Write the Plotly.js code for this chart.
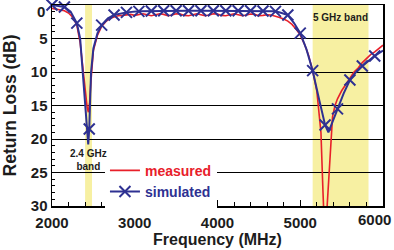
<!DOCTYPE html>
<html><head><meta charset="utf-8">
<script src="https://cdn.plot.ly/plotly-3.0.1.min.js"></script>
<style>html,body{margin:0;padding:0;background:#fff}#chart{width:394px;height:250px}</style>
</head><body><div id="chart"></div>
<script>
// Measured return loss (red)
const measFreq = [2000,2050,2100,2150,2200,2250,2300,2340,2370,2400,2425,2440,2455,2470,2485,2500,2550,2600,2650,2700,2750,2800,2850,2900,
  2950,3000,3050,3100,3150,3200,3250,3300,3350,3400,3450,3500,3550,3600,3650,3700,3750,3800,3850,3900,3950,4000,4050,4100,4150,4200,
  4250,4300,4350,4400,4450,4500,4550,4600,4650,4700,4750,4800,4850,4900,4950,5000,5050,5100,5150,5200,5250,5275,5300,5325,5350,5390,
  5420,5450,5500,5550,5600,5650,5700,5750,5800,5850,5900,5950,6000];
const measLoss = [0.5,0.6,0.7,0.85,1.2,1.8,3.0,5.6,9.0,12.6,15.3,16.0,14.5,11.5,8.6,6.8,4.5,3.2,2.5,2.0,1.8,1.6,1.55,1.45,
  1.4,1.55,1.45,1.3,1.45,1.6,1.45,1.3,1.4,1.6,1.5,1.3,1.35,1.55,1.6,1.4,1.3,1.45,1.6,1.5,1.3,1.35,1.55,1.6,1.4,1.3,
  1.45,1.6,1.5,1.35,1.4,1.6,1.55,1.45,1.5,1.65,1.85,2.1,2.4,2.9,3.6,4.5,5.8,7.5,9.8,12.8,19,28,36,30,24.5,16.7,
  15.0,14.0,12.8,11.9,10.9,10.0,9.4,8.6,8.0,7.4,7.0,6.5,6.0];
// Simulated return loss (blue)
const simFreq = [2000,2075,2150,2225,2300,2340,2370,2400,2425,2438,2450,2460,2472,2500,2550,2600,2675,2750,2825,2900,3050,3200,3350,3500,
  3650,3800,3950,4100,4250,4400,4550,4700,4775,4850,4925,5000,5075,5150,5230,5300,5340,5450,5525,5600,5675,5750,5825,5900,6000];
const simLoss = [0,0.1,0.3,1.0,2.7,5.0,9.8,14.8,18.8,20.8,18.5,15.0,10.0,6.5,4.2,3.0,2.0,1.5,1.25,1.1,0.95,0.9,0.85,0.85,
  0.85,0.85,0.85,0.85,0.85,0.85,0.9,0.95,1.2,1.5,2.7,4.2,6.6,9.8,14.2,17.9,19.0,15.5,13.2,11.2,10.0,9.1,8.3,7.6,6.8];
// Simulated markers every 150 MHz
const markStep = 150;
const markFreq = simFreq.filter(f => (f - 2000) % markStep === 0);
const markLoss = simFreq.map((f,i)=>[f,simLoss[i]]).filter(p => (p[0]-2000) % markStep === 0).map(p=>p[1]);
// Bands
const bandStart = [2400, 5150];
const bandEnd = [2483.5, 5825];
const bandLabels = ["2.4 GHz<br>band", "5 GHz band"];
// Ticks (edge labels 0 and 6000 are nudged inward as in the original, drawn as annotations)
const xTicks = [2000,3000,4000,5000,6000];
const xTickText = ["2000","3000","4000","5000",""];
const yTicks = [0,5,10,15,20,25,30];
const yTickText = ["","5","10","15","20","25","30"];

const RED = '#e8202a', BLUE = '#2e3192', YEL = '#f7f0a2', INK = '#1c1c1c';
const FONT = 'Arial, "Liberation Sans", sans-serif';
const tickFont = {family:FONT, size:15, weight:700, color:INK};

const traces = [
  {x: measFreq, y: measLoss, mode:'lines', line:{color:RED, width:1.6}, name:'<span style="color:'+RED+'">measured</span>', showlegend:true},
  {x: simFreq, y: simLoss, mode:'lines', line:{color:BLUE, width:2}, showlegend:false},
  {x: markFreq, y: markLoss, mode:'markers', marker:{symbol:'x-thin-open', size:11, color:BLUE, line:{color:BLUE, width:2}}, cliponaxis:false, showlegend:false},
  {x:[null], y:[null], mode:'lines+markers', line:{color:BLUE, width:2}, marker:{symbol:'x-thin-open', size:11, color:BLUE, line:{color:BLUE, width:2}}, name:'<span style="color:'+BLUE+'">simulated</span>', showlegend:true}
];

const shapes = bandStart.map((s,i)=>({type:'rect', xref:'x', yref:'paper', x0:s, x1:bandEnd[i], y0:0, y1:1, fillcolor:YEL, line:{width:0}, layer:'below'}));

const layout = {
  width:394, height:250,
  margin:{l:52, r:11, t:5, b:44},
  paper_bgcolor:'#fff', plot_bgcolor:'#fff',
  font:{family:FONT, color:INK},
  showlegend:true,
  legend:{x:0.16, xanchor:'left', y:0.255, yanchor:'top', bgcolor:'#fff', borderwidth:0,
    font:{family:FONT, size:14, weight:700}, tracegroupgap:0, itemwidth:30},
  xaxis:{range:[2000,6000], autorange:false, tickvals:xTicks, ticktext:xTickText,
    ticks:'inside', ticklen:6, tickwidth:1, tickcolor:'#000', ticklabelstandoff:2,
    minor:{dtick:200, ticks:'inside', ticklen:4, tickcolor:'#000', showgrid:false},
    showgrid:false, zeroline:false, showline:true, mirror:true, linecolor:'#000', linewidth:1.5,
    tickfont:tickFont,
    title:{text:'Frequency (MHz)', font:{family:FONT, size:16, weight:700, color:INK}, standoff:4}},
  yaxis:{range:[30,0], autorange:false, tickvals:yTicks, ticktext:yTickText,
    ticks:'inside', ticklen:5, tickwidth:1, tickcolor:'#000',
    minor:{dtick:1, ticks:'inside', ticklen:3, tickcolor:'#000', showgrid:false},
    showgrid:true, gridcolor:'#000', gridwidth:1, zeroline:false,
    showline:true, mirror:true, linecolor:'#000', linewidth:1.5,
    tickfont:tickFont,
    title:{text:'Return Loss (dB)', font:{family:FONT, size:17.5, weight:700, color:INK}, standoff:9}},
  shapes: shapes,
  annotations:[
    {xref:'x', yref:'paper', x:(bandStart[0]+bandEnd[0])/2, y:0.23, yanchor:'middle', text:bandLabels[0], showarrow:false,
      font:{family:FONT, size:10, weight:700, color:INK}, align:'center'},
    {xref:'x', yref:'paper', x:(bandStart[1]+bandEnd[1])/2, y:0.94, yanchor:'middle', text:bandLabels[1], showarrow:false,
      font:{family:FONT, size:10, weight:700, color:INK}},
    {xref:'paper', yref:'paper', x:0, y:1, xanchor:'right', yanchor:'top', xshift:-6, yshift:3, text:String(yTicks[0]), showarrow:false, font:tickFont, borderpad:0},
    {xref:'paper', yref:'paper', x:1, y:0, xanchor:'right', yanchor:'top', xshift:9, yshift:-4, text:String(xTicks[4]), showarrow:false, font:tickFont, borderpad:0}
  ]
};
Plotly.newPlot('chart', traces, layout, {staticPlot:true, displayModeBar:false});
</script></body></html>
